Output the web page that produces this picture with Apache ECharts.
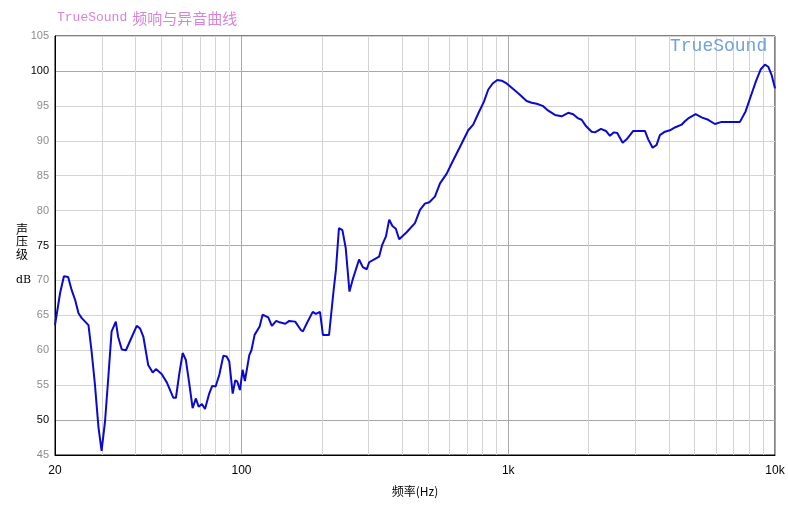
<!DOCTYPE html>
<html>
<head>
<meta charset="utf-8">
<script src="https://cdn.jsdelivr.net/npm/echarts@6/dist/echarts.min.js"></script>
<style>html,body{margin:0;padding:0;background:#fff}#c{width:788px;height:508px}</style>
</head>
<body>
<div id="c"></div>
<script>
// Frequency (Hz) of each measured point
const freqHz = [
  20,20.9,21.6,22.4,23.1,23.8,24.5,25.2,26.7,27.4,
  28.2,29.1,29.9,30.8,31.7,32.6,33.8,34.5,35.6,36.9,
  38.8,40.5,41.7,42.9,44.7,46.5,47.8,50.2,52.5,55.5,
  56.8,58.5,60.2,61.9,63.7,65.6,67.5,69.1,71.1,73.0,
  75.7,77.7,80.0,82.6,85.5,88.0,90.0,92.7,94.8,96.5,
  98.7,101,103,107,109,112,117,120,126,130,
  135,139,146,151,159,167,170,176,185,190,
  197,202,213,221,226,232,239,246,254,262,
  276,285,295,301,317,328,337,348,358,368,
  379,390,416,447,467,487,506,531,555,588,
  622,659,708,739,772,811,841,874,910,945,
  986,1044,1106,1172,1224,1278,1346,1413,1497,1585,
  1678,1752,1829,1885,1956,2054,2114,2226,2324,2406,
  2490,2563,2685,2779,2942,3254,3348,3477,3599,3703,
  3867,4037,4215,4465,4594,4728,5040,5308,5617,5954,
  6308,7388,7758,8100,8480,8831,9168,9433,9714,10000
];
// Sound pressure level (dB) at each frequency
const splDb = [
  63.6,68.2,70.6,70.5,68.6,67.2,65.3,64.6,63.6,60.0,
  55.3,49.0,45.6,49.8,56.2,62.7,64.1,61.9,60.1,60.0,
  61.9,63.5,63.1,61.9,57.9,56.8,57.3,56.6,55.4,53.2,
  53.2,56.7,59.6,58.6,55.3,51.7,53.1,51.9,52.3,51.6,
  53.8,54.9,54.8,56.5,59.2,59.1,58.4,53.8,55.7,55.5,
  54.3,57.2,55.6,59.3,60.0,62.2,63.4,65.1,64.7,63.5,
  64.2,64.0,63.8,64.2,64.1,62.9,62.7,63.9,65.5,65.2,
  65.5,62.2,62.2,68.2,71.5,77.5,77.2,74.6,68.4,70.3,
  73.0,71.9,71.6,72.6,73.1,73.4,75.1,76.3,78.7,77.8,
  77.4,75.9,76.9,78.2,80.1,81.0,81.2,82.0,83.9,85.3,
  87.2,89.1,91.5,92.3,93.9,95.6,97.3,98.2,98.7,98.6,
  98.2,97.4,96.6,95.7,95.45,95.3,95.0,94.3,93.7,93.5,
  94.0,93.8,93.2,93.0,92.1,91.3,91.2,91.7,91.4,90.7,
  91.2,91.1,89.7,90.2,91.4,91.4,90.2,89.0,89.4,90.8,
  91.3,91.5,91.9,92.3,92.8,93.2,93.8,93.35,93.0,92.4,
  92.7,92.7,94.2,96.3,98.5,100.2,100.9,100.6,99.4,97.5
];
// Minor (light) vertical grid frequencies
const minorFreqs = [30,40,50,60,70,80,90,200,300,400,500,600,700,800,900,2000,3000,4000,5000,6000,7000,8000,9000];
// Y labels drawn in black (others grey)
const majorDb = [50,75,100];

const chart = echarts.init(document.getElementById('c'), null, {renderer:'canvas'});
const points = freqHz.map((f,i)=>[f, splDb[i]]);

chart.setOption({
  animation:false,
  backgroundColor:'#ffffff',
  title:{
    text:'{a|TrueSound} {b|频响与异音曲线}',
    left:52, top:4,
    textStyle:{fontWeight:'normal', rich:{
      a:{fontFamily:'Liberation Mono', fontSize:13, fontWeight:'normal', color:'#d884d8'},
      b:{fontFamily:'Noto Sans CJK SC', fontSize:15, fontWeight:'normal', color:'#d884d8'}
    }}
  },
  graphic:[
    {type:'text', left:670, top:37, z:10, style:{text:'TrueSound', font:'18px "Liberation Mono"', fill:'#6fa3d8'}},
    {type:'text', left:16, top:223, style:{text:'声\n压\n级', font:'12px "Noto Sans CJK SC"', lineHeight:12.5, fill:'#000'}},
    {type:'text', left:16, top:275, style:{text:'dB', font:'11px "DejaVu Serif"', fill:'#000'}}
  ],
  grid:{left:55, right:13, top:36, bottom:53, show:true, borderColor:'#000', borderWidth:1, backgroundColor:'transparent'},
  xAxis:{
    type:'log', logBase:10, min:20, max:10000,
    name:'频率(Hz)', nameLocation:'middle', nameGap:30,
    nameTextStyle:{color:'#000', fontSize:12, fontFamily:'Noto Sans CJK SC'},
    axisLine:{show:true, lineStyle:{color:'#000', width:1}},
    axisTick:{show:false},
    axisLabel:{color:'#000', fontSize:12, fontFamily:'Liberation Sans', margin:10,
      formatter:v=>{const r=Math.round(v); return r>=1000 ? (r/1000)+'k' : String(r);}},
    splitLine:{show:true, lineStyle:{color:'#a8a8a8', width:1}},
    minorTick:{show:false}, minorSplitLine:{show:false}
  },
  yAxis:{
    type:'value', min:45, max:105, interval:5,
    axisLine:{show:true, lineStyle:{color:'#000', width:1}},
    axisTick:{show:false},
    axisLabel:{fontSize:11, fontFamily:'Liberation Sans', margin:6,
      color:v=> majorDb.indexOf(Math.round(v))>=0 ? '#000' : '#8c8c8c'},
    splitLine:{show:true, lineStyle:{color:['#d4d4d4','#a8a8a8','#d4d4d4','#d4d4d4','#d4d4d4'], width:1}}
  },
  series:[
    {
      type:'line', data:[], z:1, silent:true,
      markLine:{silent:true, symbol:'none', animation:false, label:{show:false},
        lineStyle:{color:'#d4d4d4', type:'solid', width:1},
        emphasis:{disabled:true},
        data:minorFreqs.map(v=>({xAxis:v}))}
    },
    {
      type:'line', data:points, z:5, showSymbol:false, symbol:'none', smooth:false,
      lineStyle:{color:'#0a0acc', width:2}
    }
  ]
});
</script>
</body>
</html>
